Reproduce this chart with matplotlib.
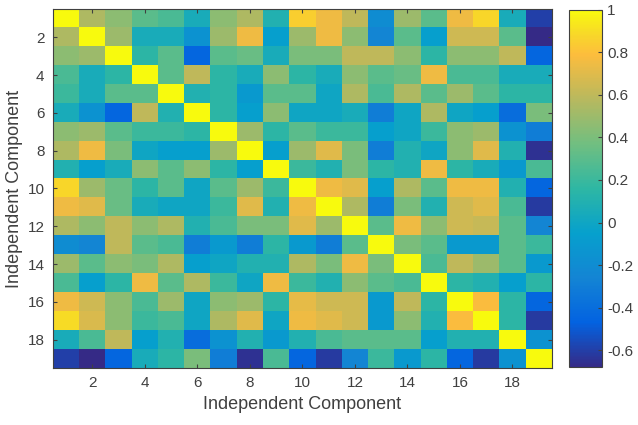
import numpy as np
import matplotlib
matplotlib.use("Agg")
import matplotlib.pyplot as plt
from matplotlib.colors import LinearSegmentedColormap

plt.rcParams['font.family'] = ['Liberation Sans', 'DejaVu Sans']

# component indices and correlation values (row by row)
components = list(range(1, 20))
row01 = [1.00, 0.55, 0.45, 0.30, 0.25, 0.05, 0.45, 0.55, 0.10, 0.85, 0.75, 0.60, -0.20, 0.50, 0.30, 0.75, 0.88, 0.05, -0.60]
row02 = [0.55, 1.00, 0.50, 0.05, 0.05, -0.15, 0.50, 0.75, -0.05, 0.50, 0.75, 0.45, -0.25, 0.30, -0.05, 0.65, 0.65, 0.30, -0.68]
row03 = [0.45, 0.50, 1.00, 0.15, 0.30, -0.45, 0.30, 0.35, 0.05, 0.40, 0.40, 0.60, 0.60, 0.45, 0.15, 0.45, 0.45, 0.60, -0.45]
row04 = [0.25, 0.05, 0.15, 1.00, 0.30, 0.60, 0.15, 0.05, 0.45, 0.15, 0.05, 0.45, 0.30, 0.35, 0.75, 0.25, 0.25, 0.05, 0.05]
row05 = [0.20, 0.05, 0.30, 0.30, 1.00, 0.10, 0.15, -0.10, 0.30, 0.30, 0.00, 0.55, 0.25, 0.55, 0.30, 0.50, 0.30, 0.15, 0.15]
row06 = [0.05, -0.15, -0.45, 0.60, 0.10, 1.00, 0.15, -0.05, 0.45, 0.00, 0.00, 0.05, -0.30, 0.00, 0.55, 0.00, -0.05, -0.40, 0.40]
row07 = [0.45, 0.50, 0.30, 0.20, 0.20, 0.15, 1.00, 0.50, 0.15, 0.30, 0.20, 0.20, -0.05, 0.00, 0.20, 0.45, 0.50, -0.15, -0.30]
row08 = [0.55, 0.75, 0.40, 0.00, -0.05, -0.05, 0.50, 1.00, -0.05, 0.50, 0.70, 0.40, -0.30, 0.10, 0.00, 0.45, 0.70, 0.10, -0.65]
row09 = [0.10, -0.05, 0.05, 0.45, 0.30, 0.45, 0.15, -0.05, 1.00, 0.20, 0.10, 0.40, 0.15, 0.10, 0.75, 0.15, 0.05, -0.10, 0.25]
row10 = [0.88, 0.50, 0.35, 0.15, 0.30, 0.00, 0.30, 0.50, 0.20, 1.00, 0.75, 0.70, -0.05, 0.55, 0.30, 0.75, 0.75, 0.10, -0.45]
row11 = [0.75, 0.70, 0.35, 0.05, 0.00, 0.00, 0.20, 0.70, 0.10, 0.75, 1.00, 0.55, -0.30, 0.40, 0.10, 0.65, 0.70, 0.25, -0.62]
row12 = [0.55, 0.45, 0.60, 0.45, 0.55, 0.10, 0.25, 0.40, 0.40, 0.70, 0.50, 1.00, 0.30, 0.75, 0.45, 0.65, 0.62, 0.30, -0.25]
row13 = [-0.20, -0.25, 0.60, 0.30, 0.25, -0.30, -0.10, -0.30, 0.15, -0.10, -0.30, 0.30, 1.00, 0.40, 0.30, -0.10, -0.10, 0.30, 0.20]
row14 = [0.50, 0.30, 0.45, 0.40, 0.55, -0.05, 0.00, 0.10, 0.10, 0.55, 0.40, 0.75, 0.40, 1.00, 0.25, 0.60, 0.50, 0.30, -0.10]
row15 = [0.25, -0.05, 0.15, 0.75, 0.30, 0.55, 0.20, 0.00, 0.75, 0.20, 0.10, 0.45, 0.30, 0.25, 1.00, 0.15, 0.10, -0.05, 0.15]
row16 = [0.75, 0.65, 0.45, 0.25, 0.50, 0.00, 0.45, 0.50, 0.15, 0.72, 0.65, 0.65, -0.10, 0.60, 0.15, 1.00, 0.78, 0.15, -0.45]
row17 = [0.90, 0.68, 0.45, 0.20, 0.25, 0.00, 0.55, 0.70, 0.00, 0.75, 0.70, 0.65, -0.10, 0.45, 0.10, 0.78, 1.00, 0.15, -0.62]
row18 = [0.05, 0.25, 0.60, -0.05, 0.10, -0.40, -0.15, 0.10, -0.10, 0.10, 0.25, 0.30, 0.30, 0.30, -0.05, 0.10, 0.10, 1.00, -0.15]
row19 = [-0.60, -0.68, -0.45, 0.05, 0.15, 0.40, -0.30, -0.65, 0.25, -0.45, -0.62, -0.25, 0.20, -0.10, 0.15, -0.45, -0.62, -0.15, 1.00]

corr = np.array([row01, row02, row03, row04, row05, row06, row07, row08, row09, row10,
                 row11, row12, row13, row14, row15, row16, row17, row18, row19])

# rough MATLAB parula
parula = LinearSegmentedColormap.from_list("parula", [
    (0.000, (0.2081, 0.1663, 0.5292)),
    (0.125, (0.0117, 0.3875, 0.8820)),
    (0.250, (0.0780, 0.5200, 0.8300)),
    (0.375, (0.0238, 0.6287, 0.8038)),
    (0.500, (0.1801, 0.7177, 0.6424)),
    (0.625, (0.4420, 0.7481, 0.5033)),
    (0.750, (0.7200, 0.7235, 0.3700)),
    (0.875, (0.9900, 0.7400, 0.2400)),
    (0.940, (0.9700, 0.8600, 0.1500)),
    (1.000, (0.9763, 0.9831, 0.0538)),
])

fig = plt.figure(figsize=(6.38, 4.25), dpi=100)
ax = fig.add_axes([0.083, 0.134, 0.782, 0.845])
cax = fig.add_axes([0.892, 0.136, 0.051, 0.841])

im = ax.imshow(corr, cmap=parula, vmin=-0.68, vmax=1.0, aspect='auto',
               extent=(0.5, 19.5, 19.5, 0.5), interpolation='nearest')

txt = '#404040'
ax.set_xticks(components[1::2])
ax.set_yticks(components[1::2])
ax.tick_params(direction='in', top=True, right=True, length=3, labelsize=11,
               colors=txt, pad=6)
for s in ax.spines.values():
    s.set_color(txt)
    s.set_linewidth(0.8)
ax.set_xlabel('Independent Component', fontsize=13, color=txt, labelpad=4)
ax.set_ylabel('Independent Component', fontsize=13, color=txt, labelpad=3)

cb = fig.colorbar(im, cax=cax)
cb.set_ticks([1, 0.8, 0.6, 0.4, 0.2, 0, -0.2, -0.4, -0.6])
cb.set_ticklabels(['1', '0.8', '0.6', '0.4', '0.2', '0', '-0.2', '-0.4', '-0.6'])
cax.tick_params(direction='in', length=3, labelsize=11, colors=txt, pad=4)
cb.outline.set_edgecolor(txt)
cb.outline.set_linewidth(0.8)

fig.savefig('out.png', dpi=100)
